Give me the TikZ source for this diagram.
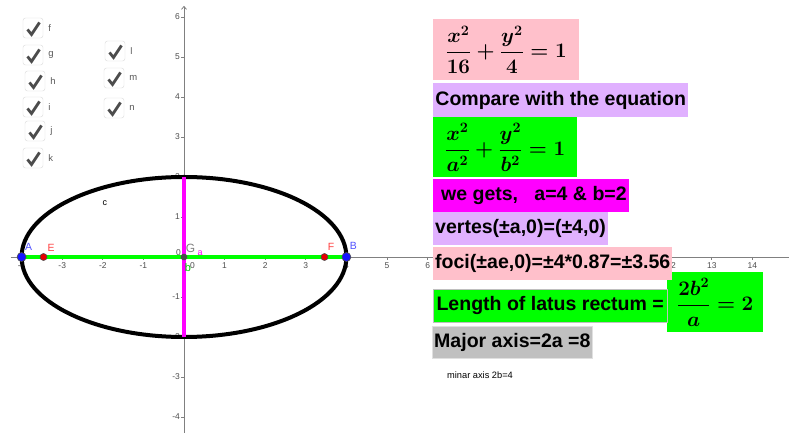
\documentclass[tikz,border=0pt]{standalone}
\usepackage{amsmath,amssymb}
\usepackage[no-math]{fontspec}
\setmainfont{Liberation Sans}
\usetikzlibrary{arrows.meta,positioning}

\definecolor{ggpink}{RGB}{255,192,203}
\definecolor{gglilac}{RGB}{224,176,255}
\definecolor{gggreen}{RGB}{0,255,0}
\definecolor{ggmagenta}{RGB}{255,0,255}
\definecolor{gggray}{RGB}{192,192,192}
\definecolor{ggaxis}{RGB}{128,128,128}
\definecolor{ggblue}{RGB}{21,21,255}
\definecolor{ggred}{RGB}{230,0,0}

\newcommand{\boxfont}{\fontsize{19.6}{23}\selectfont\bfseries}
\newcommand{\eqfont}{\fontsize{21}{25}\selectfont\boldmath}

\begin{document}
\begin{tikzpicture}[x=1bp, y=-1bp,
    chkbox/.style={draw=black!15, fill=white, rounded corners=2.5bp, minimum size=20bp, inner sep=0pt},
    chk/.style={line width=2.8bp, draw=black!70},
    chklbl/.style={inner sep=0pt, font=\fontsize{9.5}{11}\selectfont, text=black!65},
    axtick/.style={ggaxis, line width=0.8bp},
    ticklbl/.style={font=\fontsize{8.5}{10}\selectfont, text=black!70, inner sep=1bp},
    txtbox/.style={anchor=north west, inner xsep=2bp, inner ysep=0pt, font=\boxfont},
    eqbox/.style={anchor=north west, inner sep=0pt, align=center, font=\eqfont},
    ggpt/.style={circle, draw=black!70, line width=0.6bp, inner sep=0pt, minimum size=#1},
    ptlbl/.style={font=\fontsize{10.5}{12}\selectfont, inner sep=0pt}
]
\useasboundingbox (0,0) rectangle (789,433);

% check boxes
\foreach \n/\px/\py in {f/33/28, g/33/55, h/35/81, i/33/107, j/35/131, k/33/158, l/115/51, m/114/78, n/114/108} {
  \node[chkbox] (box\n) at (\px,\py) {};
  \draw[chk] ([shift={(-5.5,1.5)}]box\n.center) -- ([shift={(-1.5,6.5)}]box\n.center) -- ([shift={(6.5,-5.5)}]box\n.center);
  \node[chklbl, right=5bp of box\n] (lbl\n) {\n};
}

\begin{scope}[shift={(184,257)}, x=40.6bp, y=40bp]
  \draw[ggaxis, line width=0.8bp] (-4.27,0) -- (14.9,0);
  \draw[ggaxis, line width=0.8bp, -{Straight Barb[length=3bp,width=5bp]}] (0,-4.4) -- (0,6.28);
  \foreach \k in {-4,-3,-2,-1,1,2,...,14} {
    \draw[axtick] (\k,0) -- ++(0,-3bp);
  }
  % 7..11 lie under the foci box
  \foreach \k in {-4,-3,-2,-1,1,2,...,6,12,13,14} {
    \node[ticklbl, anchor=north] at (\k,-0.1) {\k};
  }
  \foreach \k in {-4,-3,-2,-1,1,2,...,6} {
    \draw[axtick] (0,\k) -- ++(-3bp,0);
    \node[ticklbl, anchor=east] at ([xshift=-3bp]0,\k) {\k};
  }
  \node[ticklbl, anchor=south east] at (-0.05,0) {0};
  \node[ticklbl, anchor=north west] at (0.12,-0.1) {0};

  \coordinate (G) at (0,0);
  \coordinate (A) at (-4,0);
  \coordinate (B) at (4,0);
  \coordinate (E) at (-3.46,0);
  \coordinate (F) at (3.46,0);
  \coordinate (C) at (0,2);
  \coordinate (D) at (0,-2);

  \draw[line width=4bp] (G) ellipse [x radius=4, y radius=2];
  \node[inner sep=0pt, font=\fontsize{9}{10}\selectfont] (lblc) at (-1.95,1.35) {c};
  \draw[ggmagenta, line width=4bp] (C) -- (D);
  \draw[gggreen, line width=4bp] (A) -- (B);

  \node[ggpt=9bp, fill=ggblue] (ptA) at (A) {};
  \node[ggpt=9bp, fill=ggblue] (ptB) at (B) {};
  \node[ggpt=7bp, fill=ggred] (ptE) at (E) {};
  \node[ggpt=7bp, fill=ggred] (ptF) at (F) {};
  \node[ggpt=6bp, fill=black!70] (ptG) at (G) {};

  \node[ptlbl, text=ggblue!75] at ([shift={(7bp,10bp)}]A) {A};
  \node[ptlbl, text=ggblue!75] at ([shift={(7bp,11bp)}]B) {B};
  \node[ptlbl, text=red!75] at ([shift={(7.5bp,9.5bp)}]E) {E};
  \node[ptlbl, text=red!75] at ([shift={(6.5bp,10.5bp)}]F) {F};
  \node[ptlbl, text=ggaxis, font=\fontsize{12}{13}\selectfont] at ([shift={(6.5bp,9bp)}]G) {G};
  \node[ptlbl, text=ggmagenta, font=\fontsize{9}{10}\selectfont] at ([shift={(16bp,4bp)}]G) {a};
  \node[ptlbl, text=gggreen!80!black, font=\fontsize{11}{12}\selectfont] at ([shift={(4bp,-11bp)}]G) {b};
\end{scope}

% text boxes
\node[eqbox, fill=ggpink, minimum width=146bp, minimum height=61bp] (given) at (433,19) {$\dfrac{x^2}{16}+\dfrac{y^2}{4}=1$};
\node[txtbox, fill=gglilac, minimum width=255bp, minimum height=34bp] (compare) at (433,83) {Compare with the equation};
\node[eqbox, fill=gggreen, minimum width=144bp, minimum height=60bp] (standard) at (433,117) {$\dfrac{x^2}{a^2}+\dfrac{y^2}{b^2}=1$};
\node[txtbox, fill=ggmagenta, minimum width=196bp, minimum height=33bp] (gets) at (433,179) {\ we gets,\ \ \ a=4 \& b=2};
\node[txtbox, fill=gglilac, minimum width=173bp, minimum height=33bp] (vertex) at (433,212) {vertes(±a,0)=(±4,0)};
\node[eqbox, fill=gggreen, minimum width=96bp, minimum height=60bp] (latusval) at (667,272) {$\dfrac{2b^2}{a}=2$};
\node[txtbox, fill=ggpink, minimum width=236bp, minimum height=33bp] (foci) at (433,247) {foci(±ae,0)=±4*0.87=±3.56};
\node[txtbox, fill=gggreen, draw=black!25, minimum width=234bp, minimum height=33bp] (latus) at (433,289) {Length of latus rectum =};
\node[txtbox, fill=gggray, draw=black!12, minimum width=160bp, minimum height=32bp] (major) at (432,326) {Major axis=2a =8};
\node[anchor=west, inner sep=0pt, font=\fontsize{9.3}{11}\selectfont] (minor) at (447,375) {minar axis 2b=4};
\end{tikzpicture}
\end{document}
